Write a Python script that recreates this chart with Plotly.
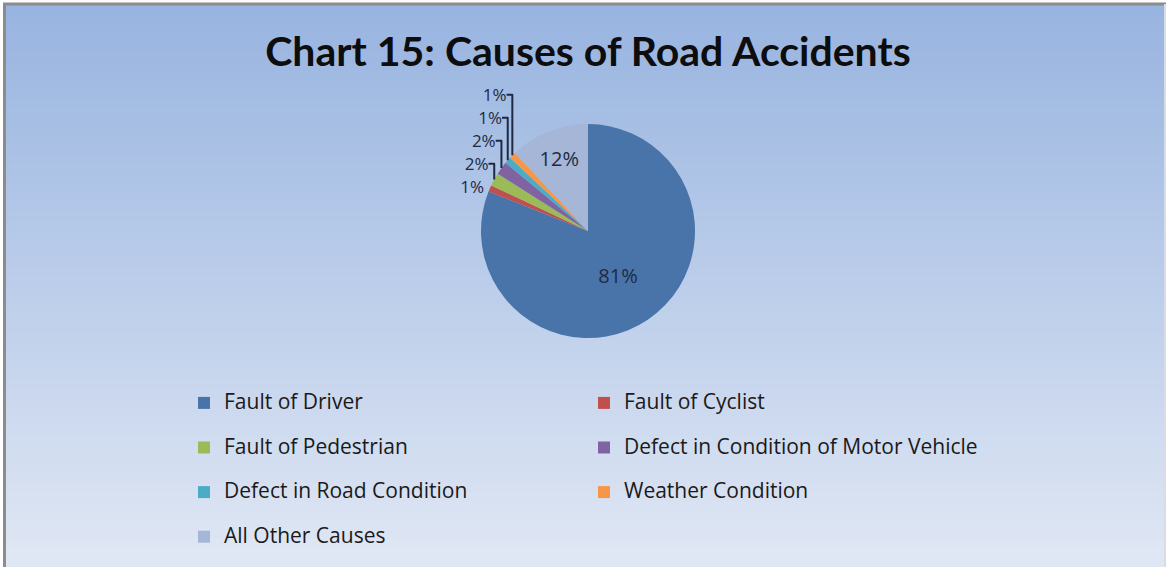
import plotly.graph_objects as go

# ---- data ----
categories = [
    "Fault of Driver",
    "Fault of Cyclist",
    "Fault of Pedestrian",
    "Defect in Condition of Motor Vehicle",
    "Defect in Road Condition",
    "Weather Condition",
    "All Other Causes",
]
shares = [81, 1, 2, 2, 1, 1, 12]
slice_colors = ["#4874AA", "#C0504D", "#9BBB59", "#8064A2", "#4BACC6", "#F79646", "#A5B6D6"]
title_text = "Chart 15: Causes of Road Accidents"

W, H = 1168, 567
FONT = "Open Sans, Lato, Arial"

# legend labels: larger text, plus a blank second line to reproduce the wide row spacing
legend_labels = []
for i, c in enumerate(categories):
    lab = "<span style='font-size:21px'>" + c + "</span>"
    if i < len(categories) - 1:
        lab += "<br> "
    legend_labels.append(lab)
text_positions = ["inside" if v >= 5 else "outside" for v in shares]

fig = go.Figure()
fig.add_trace(go.Pie(
    labels=legend_labels,
    values=shares,
    customdata=categories,
    sort=False,
    direction="clockwise",
    rotation=0,
    marker=dict(colors=slice_colors, line=dict(width=0)),
    texttemplate="%{percent:.0%}",
    textposition=text_positions,
    insidetextfont=dict(family=FONT, size=20, color="#1E2A44"),
    outsidetextfont=dict(family=FONT, size=17, color="#1E2A44"),
    hovertemplate="%{customdata}: %{percent}<extra></extra>",
    domain=dict(x=[0.25 + 4 / W, 0.75 + 4 / W], y=[1 - 338 / H, 1 - 124 / H]),
    showlegend=True,
))

# gradient background bands (decoration)
def lerp(a, b, t):
    return int(round(a + (b - a) * t))

top_rgb = (0x98, 0xB4, 0xE0)
bot_rgb = (0xE0, 0xE7, 0xF4)
n_bands = 60
shapes = []
band_h = (1 - 5 / H) / n_bands
for i in range(n_bands):
    t = i / (n_bands - 1)
    col = "rgb(%d,%d,%d)" % tuple(lerp(top_rgb[k], bot_rgb[k], t) for k in range(3))
    y1 = 1 - 5 / H - i * band_h
    y0 = y1 - band_h - 0.002
    shapes.append(dict(type="rect", xref="paper", yref="paper",
                       x0=5 / W, x1=1164 / W, y0=max(y0, 0), y1=y1,
                       fillcolor=col, line=dict(width=0), layer="below"))
# frame lines
shapes.append(dict(type="line", xref="paper", yref="paper", x0=4.5 / W, x1=4.5 / W,
                   y0=0, y1=1 - 3 / H, line=dict(color="#8C8C8C", width=3), layer="below"))
shapes.append(dict(type="line", xref="paper", yref="paper", x0=3 / W, x1=1166 / W,
                   y0=1 - 4 / H, y1=1 - 4 / H, line=dict(color="#8C8C8C", width=3), layer="below"))
shapes.append(dict(type="line", xref="paper", yref="paper", x0=1165 / W, x1=1165 / W,
                   y0=0, y1=1 - 4 / H, line=dict(color="#D8DCE6", width=2), layer="below"))

fig.update_layout(
    width=W, height=H,
    margin=dict(l=0, r=0, t=0, b=0),
    paper_bgcolor="white",
    plot_bgcolor="rgba(0,0,0,0)",
    shapes=shapes,
    title=dict(text="<b>" + title_text + "</b>", x=588 / W, xanchor="center",
               y=1 - 52 / H, yanchor="middle",
               font=dict(family="Lato, Arial", size=41, color="#0D0D0D")),
    legend=dict(
        orientation="h",
        x=184 / W, xanchor="left",
        y=1 - 386 / H, yanchor="top",
        entrywidth=355, entrywidthmode="pixels",
        valign="top",
        font=dict(family=FONT, size=16, color="#1A1A1A"),
        bgcolor="rgba(0,0,0,0)",
        traceorder="normal",
    ),
)

fig.write_html("out.html", config={"displayModeBar": False},
               post_script="document.body.style.margin='0';document.body.style.overflow='hidden';")
